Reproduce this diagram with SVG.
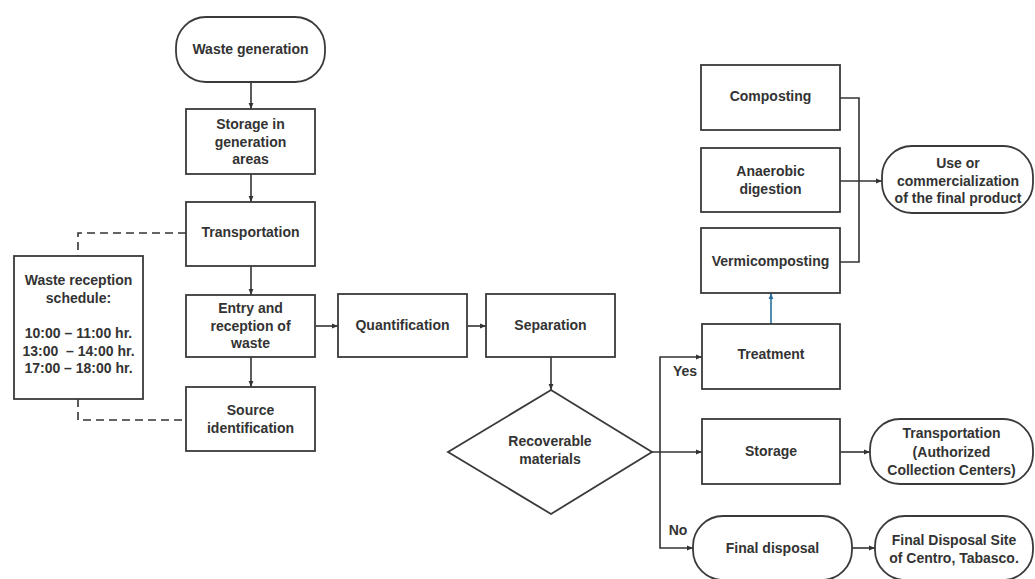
<svg xmlns="http://www.w3.org/2000/svg" width="1035" height="579" viewBox="0 0 1035 579">
<defs>
<style>
.box{fill:#fff;stroke:#3a3a3a;stroke-width:1.8}
.t{font-family:"Liberation Sans",Arial,sans-serif;font-weight:bold;font-size:14px;fill:#333;text-anchor:middle;dominant-baseline:central}
.c{fill:none;stroke:#333;stroke-width:1.6}
.d{fill:none;stroke:#333;stroke-width:1.6;stroke-dasharray:8 5}
.b{fill:none;stroke:#2a6f9e;stroke-width:1.6}
</style>
<marker id="ah" viewBox="0 0 10 10" refX="10" refY="5" markerWidth="6" markerHeight="6" markerUnits="userSpaceOnUse" orient="auto"><path d="M0,1 L10,5 L0,9 z" fill="#333"/></marker>
<marker id="ahb" viewBox="0 0 10 10" refX="10" refY="5" markerWidth="6" markerHeight="6" markerUnits="userSpaceOnUse" orient="auto"><path d="M0,1 L10,5 L0,9 z" fill="#2a6f9e"/></marker>
</defs>
<rect width="1035" height="579" fill="#fff"/>
<g id="connectors">
<path class="c" d="M251,82 V109" marker-end="url(#ah)"/>
<path class="c" d="M251,174 V202" marker-end="url(#ah)"/>
<path class="c" d="M251,266 V295" marker-end="url(#ah)"/>
<path class="c" d="M251,357 V387" marker-end="url(#ah)"/>
<path class="c" d="M315,326 H338" marker-end="url(#ah)"/>
<path class="c" d="M467,326 H486" marker-end="url(#ah)"/>
<path class="c" d="M551,357 V390" marker-end="url(#ah)"/>
<path class="d" d="M186,233 H78 V256"/>
<path class="d" d="M78,399 V420 H186"/>
<path class="c" d="M652,452 H702" marker-end="url(#ah)"/>
<path class="c" d="M660,452 V357 H702" marker-end="url(#ah)"/>
<path class="c" d="M660,452 V548 H693" marker-end="url(#ah)"/>
<path class="c" d="M840,452 H870" marker-end="url(#ah)"/>
<path class="c" d="M852,548 H875" marker-end="url(#ah)"/>
<path class="b" d="M771,324 V293" marker-end="url(#ahb)"/>
<path class="c" d="M840,98 H859 V262 H840"/>
<path class="c" d="M840,181 H882" marker-end="url(#ah)"/>
</g>
<g id="waste-generation"><rect class="box" x="176" y="17" width="149" height="65" rx="30" ry="30"/><text class="t" x="250.5" y="49">Waste generation</text></g>
<g id="storage-generation"><rect class="box" x="186" y="109" width="129" height="65"/><text class="t" x="250.5" y="124">Storage in</text><text class="t" x="250.5" y="142">generation</text><text class="t" x="250.5" y="159">areas</text></g>
<g id="transportation"><rect class="box" x="186" y="202" width="129" height="64"/><text class="t" x="250.5" y="232">Transportation</text></g>
<g id="entry-reception"><rect class="box" x="186" y="295" width="129" height="62"/><text class="t" x="250.5" y="308">Entry and</text><text class="t" x="250.5" y="326">reception of</text><text class="t" x="250.5" y="343">waste</text></g>
<g id="source-identification"><rect class="box" x="186" y="387" width="129" height="64"/><text class="t" x="250.5" y="410">Source</text><text class="t" x="250.5" y="428">identification</text></g>
<g id="schedule"><rect class="box" x="14" y="256" width="129" height="143"/><text class="t" x="78.5" y="280">Waste reception</text><text class="t" x="78.5" y="298">schedule:</text><text class="t" x="78.5" y="333">10:00 – 11:00 hr.</text><text class="t" x="78.5" y="351" xml:space="preserve">13:00  – 14:00 hr.</text><text class="t" x="78.5" y="368">17:00 – 18:00 hr.</text></g>
<g id="quantification"><rect class="box" x="338" y="294" width="129" height="63"/><text class="t" x="402.5" y="325">Quantification</text></g>
<g id="separation"><rect class="box" x="486" y="294" width="129" height="63"/><text class="t" x="550.5" y="325">Separation</text></g>
<g id="recoverable"><polygon class="box" points="551,390 652,452 551,514 448,452"/><text class="t" x="550" y="441">Recoverable</text><text class="t" x="550" y="459">materials</text></g>
<g id="composting"><rect class="box" x="701" y="65" width="139" height="65"/><text class="t" x="770.5" y="96">Composting</text></g>
<g id="anaerobic"><rect class="box" x="701" y="148" width="139" height="64"/><text class="t" x="770.5" y="171">Anaerobic</text><text class="t" x="770.5" y="189">digestion</text></g>
<g id="vermicomposting"><rect class="box" x="701" y="228" width="139" height="65"/><text class="t" x="770.5" y="261">Vermicomposting</text></g>
<g id="use-commercialization"><rect class="box" x="882" y="146" width="151" height="67" rx="30" ry="30"/><text class="t" x="958" y="163">Use or</text><text class="t" x="958" y="181">commercialization</text><text class="t" x="958" y="198">of the final product</text></g>
<g id="treatment"><rect class="box" x="702" y="324" width="138" height="65"/><text class="t" x="771" y="354">Treatment</text></g>
<g id="yes-label"><text class="t" x="685" y="371">Yes</text></g>
<g id="storage"><rect class="box" x="702" y="419" width="138" height="65"/><text class="t" x="771" y="451">Storage</text></g>
<g id="transportation-acc"><rect class="box" x="870" y="419" width="163" height="65" rx="30" ry="30"/><text class="t" x="951.5" y="433">Transportation</text><text class="t" x="951.5" y="452">(Authorized</text><text class="t" x="951.5" y="470">Collection Centers)</text></g>
<g id="no-label"><text class="t" x="678" y="530">No</text></g>
<g id="final-disposal"><rect class="box" x="693" y="516" width="159" height="64" rx="30" ry="30"/><text class="t" x="772.5" y="548">Final disposal</text></g>
<g id="final-disposal-site"><rect class="box" x="875" y="516" width="158" height="64" rx="30" ry="30"/><text class="t" x="954" y="540">Final Disposal Site</text><text class="t" x="954" y="558">of Centro, Tabasco.</text></g>
</svg>
